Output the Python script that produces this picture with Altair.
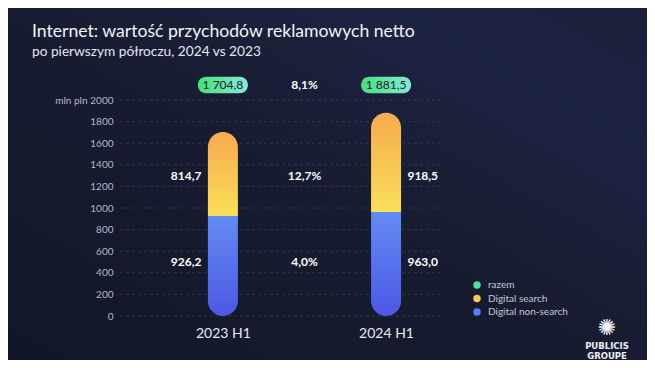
import altair as alt
import pandas as pd

# ---- data ----
periods = ["2023 H1", "2024 H1"]
period_pos = [1, 3]
non_search = [926.2, 963.0]
search = [814.7, 918.5]
totals = [1704.8, 1881.5]
label_side = [-1, 1]
change_labels = ["8,1%", "12,7%", "4,0%"]
change_y = [2139, 1296, 500]
legend_names = ["razem", "Digital search", "Digital non-search"]
legend_colors = ["#4fe29a", "#f9c752", "#5b7cf3"]
y_ticks = list(range(0, 2001, 200))

FONT = "Lato"
BG = "#161b2f"


def pl(v):
    return f"{v:,.1f}".replace(",", " ").replace(".", ",")


bars = pd.DataFrame({
    "pos": period_pos,
    "period": periods,
    "base": [0, 0],
    "non_search": non_search,
    "total": totals,
    "search_label": [pl(v) for v in search],
    "non_label": [pl(v) for v in non_search],
    "total_label": [pl(v) for v in totals],
    "label_x": [p + s * 0.45 for p, s in zip(period_pos, label_side)],
    "search_y": [1296, 1296],
    "non_y": [500, 500],
    "pill_lo": [2062, 2062],
    "pill_hi": [2216, 2216],
    "pill_y": [2139, 2139],
})
changes = pd.DataFrame({"pos": [2, 2, 2], "label": change_labels, "y": change_y})
legend_df = pd.DataFrame({"name": legend_names, "pos": [1, 1, 1], "v": [0, 0, 0]})
grid_df = pd.DataFrame({"tick": y_ticks})
one = pd.DataFrame({"k": [0]})

xs = alt.Scale(domain=[-0.2, 3.6], nice=False, zero=False)
ys = alt.Scale(domain=[0, 2000], nice=False)

x_axis = alt.Axis(values=period_pos, grid=False, ticks=False, domain=False,
                  labelExpr="datum.value == 1 ? '2023 H1' : '2024 H1'",
                  labelFontSize=14, labelColor="#e8eaf0", labelFont=FONT,
                  labelPadding=10, zindex=1)
y_axis = alt.Axis(values=y_ticks, format="d", grid=False, ticks=False, domain=False,
                  labelOverlap=False, zindex=1, tickCount=11,
                  labelFontSize=10, labelColor="#b3b8c8", labelFont=FONT,
                  labelPadding=7, titleAngle=0, titleX=-33,
                  titleY=0, titleAlign="right", titleBaseline="middle",
                  titleFontSize=10, titleFontWeight="normal", titleColor="#b3b8c8",
                  titleFont=FONT)


def X(field):
    return alt.X(field, scale=xs, title=None, axis=x_axis)


def Y(field):
    return alt.Y(field, scale=ys, title="mln pln", axis=y_axis)


blue_grad = alt.Gradient(gradient="linear", x1=0, x2=0, y1=0, y2=1,
                         stops=[alt.GradientStop(color="#628cf3", offset=0),
                                alt.GradientStop(color="#4e57e6", offset=1)])
gold_grad = alt.Gradient(gradient="linear", x1=0, x2=0, y1=0, y2=1,
                         stops=[alt.GradientStop(color="#f6aa4f", offset=0),
                                alt.GradientStop(color="#fbdf58", offset=1)])
green_grad = alt.Gradient(gradient="linear", x1=0, x2=1, y1=0, y2=0,
                          stops=[alt.GradientStop(color="#45e07e", offset=0),
                                 alt.GradientStop(color="#86e9d4", offset=1)])
bg_grad = alt.Gradient(gradient="linear", x1=0, x2=1, y1=1, y2=0,
                       stops=[alt.GradientStop(color="#121727", offset=0),
                              alt.GradientStop(color="#161b2f", offset=0.45),
                              alt.GradientStop(color="#1d2342", offset=0.8),
                              alt.GradientStop(color="#1a1f3a", offset=1)])

backdrop = alt.Chart(one).mark_rect(color=bg_grad).encode(
    x=alt.value(-112), x2=alt.value(527), y=alt.value(-92), y2=alt.value(260))

grid = alt.Chart(grid_df).mark_rule(color="#2d3452", strokeWidth=1, strokeDash=[3, 3]).encode(
    y=Y("tick:Q"),
    x=alt.value(0), x2=alt.value(320),
)

base = alt.Chart(bars)

non_bar = base.mark_bar(width=30, cornerRadiusBottomLeft=15, cornerRadiusBottomRight=15,
                        color=blue_grad).encode(
    x=X("pos:Q"), y=Y("non_search:Q"), y2="base:Q",
)

search_bar = base.mark_bar(width=30, cornerRadiusTopLeft=15, cornerRadiusTopRight=15,
                           color=gold_grad).encode(
    x=X("pos:Q"), y=Y("total:Q"), y2="non_search:Q",
)

pills = base.mark_bar(width=50, cornerRadius=8, color=green_grad).encode(
    x=X("pos:Q"), y=Y("pill_hi:Q"), y2="pill_lo:Q",
)

pill_text = base.mark_text(font=FONT, fontSize=12, color="#14202a").encode(
    x=X("pos:Q"), y=Y("pill_y:Q"), text="total_label:N",
)

search_text = base.mark_text(font=FONT, fontSize=12, color="#ffffff", fontWeight="bold").encode(
    x=X("label_x:Q"), y=Y("search_y:Q"), text="search_label:N",
)
non_text = base.mark_text(font=FONT, fontSize=12, color="#ffffff", fontWeight="bold").encode(
    x=X("label_x:Q"), y=Y("non_y:Q"), text="non_label:N",
)

change_text = alt.Chart(changes).mark_text(font=FONT, fontSize=12, color="#ffffff",
                                           fontWeight="bold").encode(
    x=X("pos:Q"), y=Y("y:Q"), text="label:N",
)

legend_layer = alt.Chart(legend_df).mark_point(filled=True, opacity=0).encode(
    x=X("pos:Q"), y=Y("v:Q"),
    color=alt.Color("name:N", sort=legend_names,
                    scale=alt.Scale(domain=legend_names, range=legend_colors),
                    legend=alt.Legend(title=None, orient="none", legendX=352, legendY=180,
                                      symbolType="circle", symbolSize=55, symbolOpacity=1,
                                      symbolStrokeWidth=0, labelFontSize=10,
                                      labelColor="#c4c8d4", labelFont=FONT,
                                      rowPadding=3.5, labelOffset=6)),
)

logo_star = alt.Chart(one).mark_text(font="DejaVu Sans", color="#eef0f5", fontSize=22,
                                     text="✺").encode(x=alt.value(487), y=alt.value(228))
logo_1 = alt.Chart(one).mark_text(font="DejaVu Sans", color="#eef0f5", fontSize=8.5,
                                  fontWeight="bold", text="PUBLICIS").encode(
    x=alt.value(487), y=alt.value(246))
logo_2 = alt.Chart(one).mark_text(font="DejaVu Sans", color="#eef0f5", fontSize=8.5,
                                  fontWeight="bold", text="GROUPE").encode(
    x=alt.value(487), y=alt.value(256))

chart = alt.layer(
    backdrop, grid, non_bar, search_bar, pills, pill_text, search_text, non_text, change_text,
    legend_layer, logo_star, logo_1, logo_2,
).properties(
    width=320,
    height=216,
    autosize=alt.AutoSizeParams(type="none"),
    padding={"left": 112, "top": 92, "right": 207, "bottom": 44},
    background=BG,
    title=alt.TitleParams(
        text="Internet: wartość przychodów reklamowych netto",
        subtitle="po pierwszym półroczu, 2024 vs 2023",
        anchor="start", frame="group", dx=-88, dy=69, offset=18,
        font=FONT, fontSize=17.6, fontWeight="normal", color="#f2f3f7",
        subtitleFont=FONT, subtitleFontSize=13.7, subtitleColor="#e4e6ee",
        subtitlePadding=5,
    ),
).configure_view(stroke=None)

chart.save("out.html", embed_options={"renderer": "svg", "actions": False})
